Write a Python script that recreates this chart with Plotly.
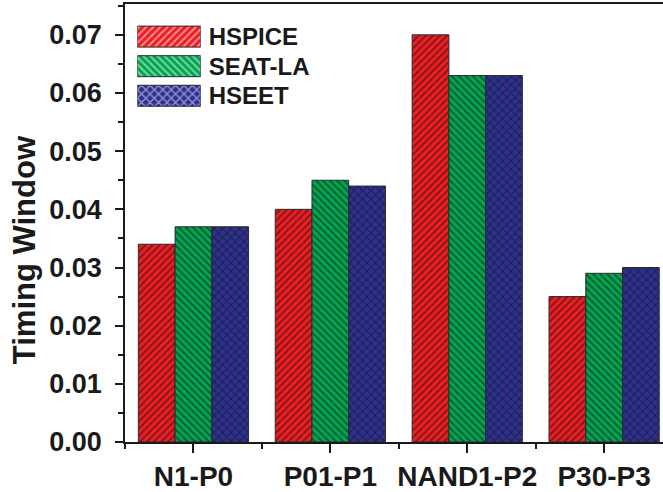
import plotly.graph_objects as go

categories = ["N1-P0", "P01-P1", "NAND1-P2", "P30-P3"]
series_names = ["HSPICE", "SEAT-LA", "HSEET"]
hspice = [0.034, 0.040, 0.070, 0.025]
seat_la = [0.037, 0.045, 0.063, 0.029]
hseet = [0.037, 0.044, 0.063, 0.030]
y_tick_vals = [0.00, 0.01, 0.02, 0.03, 0.04, 0.05, 0.06, 0.07]
y_tick_text = ["0.00", "0.01", "0.02", "0.03", "0.04", "0.05", "0.06", "0.07"]
y_title = "Timing Window"

colors = ["#EE1D23", "#00A651", "#2E3192"]
shapes = ["/", "\\", "x"]
pat_sizes = [5, 5, 6]
FONT = "Liberation Sans, Arial, sans-serif"
INK = "#1a1a1a"

xpos = list(range(len(categories)))
minor_x = [i - 0.5 for i in range(len(categories) + 1)]

fig = go.Figure()
for name, vals, col, shp, ps in zip(series_names, [hspice, seat_la, hseet], colors, shapes, pat_sizes):
    fig.add_trace(go.Bar(
        x=xpos, y=vals, name=name, showlegend=False,
        marker=dict(color=col, line=dict(color="#2a2a2a", width=1),
                    pattern=dict(shape=shp, fgcolor="#111111", size=ps, solidity=0.38)),
    ))

# custom legend swatches
fig.add_trace(go.Bar(
    x=[1] * len(series_names), y=series_names, orientation="h", width=0.71,
    xaxis="x3", yaxis="y3", showlegend=False, hoverinfo="skip",
    marker=dict(color=colors, line=dict(color="#2a2a2a", width=1),
                pattern=dict(shape=shapes, fgcolor="#111111", size=pat_sizes, solidity=0.38)),
))

fig.add_annotation(
    text=y_title, textangle=-90, xref="paper", yref="paper",
    x=-0.188, y=0.44, xanchor="center", yanchor="middle", showarrow=False,
    font=dict(family=FONT, size=31, color=INK, weight="bold"),
)

fig.update_layout(
    width=663, height=492,
    margin=dict(l=125, r=0, t=4, b=39),
    paper_bgcolor="white", plot_bgcolor="white",
    barmode="group", bargap=0.195, bargroupgap=0,
    font=dict(family=FONT, color=INK),
    xaxis=dict(
        range=[-0.5, 3.43], tickmode="array", tickvals=xpos, ticktext=categories,
        tickfont=dict(family=FONT, size=28, color=INK, weight="bold"),
        showline=True, linecolor=INK, linewidth=1.5, mirror=True,
        ticks="outside", ticklen=9, tickwidth=1.5, tickcolor=INK,
        minor=dict(tickmode="array", tickvals=minor_x, ticks="outside", ticklen=5,
                   tickwidth=1.5, tickcolor=INK),
        showgrid=False, zeroline=False, ticklabelstandoff=0,
    ),
    xaxis2=dict(
        overlaying="x", matches="x", side="top", anchor="y",
        tickmode="array", tickvals=xpos, showticklabels=False,
        ticks="inside", ticklen=8, tickwidth=1.5, tickcolor=INK,
        minor=dict(tickmode="array", tickvals=minor_x, ticks="inside", ticklen=4,
                   tickwidth=1.5, tickcolor=INK),
        showgrid=False, zeroline=False, showline=False,
    ),
    yaxis=dict(
        range=[0, 0.0753], tickmode="array", tickvals=y_tick_vals, ticktext=y_tick_text,
        tickfont=dict(family=FONT, size=27, color=INK, weight="bold"),
        showline=True, linecolor=INK, linewidth=1.5,
        ticks="outside", ticklen=8, tickwidth=1.5, tickcolor=INK,
        minor=dict(dtick=0.005, tick0=0, ticks="outside", ticklen=5, tickwidth=1.5,
                   tickcolor=INK),
        showgrid=False, zeroline=False, ticklabelstandoff=8,
    ),
    xaxis3=dict(domain=[0.0229, 0.1407], range=[0, 1], anchor="y3", visible=False,
                fixedrange=True),
    yaxis3=dict(domain=[0.7567, 0.9593], range=[2.5, -0.5], anchor="x3", side="right",
                showline=False, ticks="", showgrid=False, zeroline=False,
                ticklabelstandoff=7,
                tickfont=dict(family=FONT, size=24, color=INK, weight="bold")),
)

fig.write_html("out.html")
